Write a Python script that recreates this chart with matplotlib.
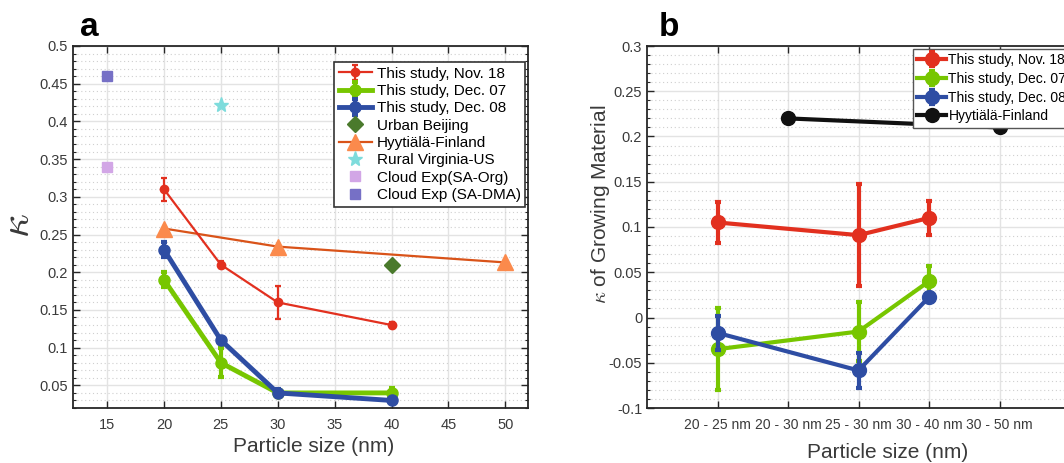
import numpy as np
import matplotlib
matplotlib.use("Agg")
import matplotlib.pyplot as plt
from matplotlib.ticker import MultipleLocator

plt.rcParams['font.family'] = ['Liberation Sans', 'DejaVu Sans']
plt.rcParams['mathtext.fontset'] = 'cm'

# ---------- panel a data ----------
size = [20, 25, 30, 40]
nov18 = [0.31, 0.21, 0.16, 0.13]
nov18_err = [0.015, 0.005, 0.022, 0.004]
dec07 = [0.19, 0.08, 0.04, 0.04]
dec07_err = [0.01, 0.019, 0.004, 0.007]
dec08 = [0.23, 0.11, 0.04, 0.03]
dec08_err = [0.01, 0.002, 0.005, 0.002]
beijing_x, beijing_y = [40], [0.21]
hyy_x = [20, 30, 50]
hyy_y = [0.258, 0.234, 0.213]
virginia_x, virginia_y = [25], [0.422]
sa_org_x, sa_org_y = [15], [0.34]
sa_dma_x, sa_dma_y = [15], [0.46]

# ---------- panel b data ----------
bins = ["20 - 25 nm", "20 - 30 nm", "25 - 30 nm", "30 - 40 nm", "30 - 50 nm"]
b_pos = [1, 3, 4]
b_nov18 = [0.105, 0.091, 0.110]
b_nov18_err = [0.0225, 0.056, 0.019]
b_dec07 = [-0.035, -0.0155, 0.040]
b_dec07_err = [0.045, 0.033, 0.017]
b_dec08 = [-0.017, -0.0585, 0.0225]
b_dec08_err = [0.019, 0.0195, 0.003]
b_hyy_pos = [2, 5]
b_hyy = [0.22, 0.21]

RED = '#e2301f'
GREEN = '#77c600'
BLUE = '#2e4da3'
TXT = '#3a3a3a'
AXC = '#262626'


def style_axes(ax):
    for s in ax.spines.values():
        s.set_color(AXC)
        s.set_linewidth(1.3)
    ax.tick_params(which='both', direction='in', top=True, right=True,
                   colors=AXC, labelcolor=TXT, labelsize=10.5)
    ax.tick_params(which='major', length=5, width=1)
    ax.tick_params(which='minor', length=2.5, width=0.8)
    ax.tick_params(axis='x', pad=7)
    ax.yaxis.set_minor_locator(MultipleLocator(0.01))
    ax.grid(True, which='major', color='#e3e3e3', lw=1.0)
    ax.grid(True, which='minor', axis='y', color='#cfcfcf', lw=0.8, ls=(0, (1, 2.5)))
    ax.set_axisbelow(True)


fig = plt.figure(figsize=(10.64, 4.63), dpi=100)

# ---------- panel a ----------
ax1 = fig.add_axes([73/1064, 55/463, 455/1064, 362/463])
style_axes(ax1)
e1 = ax1.errorbar(size, nov18, yerr=nov18_err, color=RED, lw=1.6, marker='o', ms=6,
                  capsize=2.5, elinewidth=1.6, capthick=1.6, zorder=4)
e2 = ax1.errorbar(size, dec07, yerr=dec07_err, color=GREEN, lw=3.5, marker='o', ms=8,
                  capsize=2.5, elinewidth=3, capthick=3, zorder=3)
e3 = ax1.errorbar(size, dec08, yerr=dec08_err, color=BLUE, lw=3.5, marker='o', ms=8,
                  capsize=2.5, elinewidth=3, capthick=3, zorder=4)
p4, = ax1.plot(beijing_x, beijing_y, ls='none', marker='D', ms=8, color='#4a7a2c', zorder=5)
hyy_line, = ax1.plot(hyy_x, hyy_y, color='#d95319', lw=1.6, zorder=2)
hyy_mk, = ax1.plot(hyy_x, hyy_y, ls='none', marker='^', ms=11, color='#fb8a4c', zorder=5)
p6, = ax1.plot(virginia_x, virginia_y, ls='none', marker='*', ms=11, color='#7edcdc', zorder=5)
p7, = ax1.plot(sa_org_x, sa_org_y, ls='none', marker='s', ms=7.5, color='#d2a6e6', zorder=5)
p8, = ax1.plot(sa_dma_x, sa_dma_y, ls='none', marker='s', ms=7.5, color='#7670c6', zorder=5)

ax1.set_xlim(12, 52)
ax1.set_ylim(0.02, 0.5)
ax1.set_xticks([15, 20, 25, 30, 35, 40, 45, 50])
ax1.set_yticks([0.05, 0.1, 0.15, 0.2, 0.25, 0.3, 0.35, 0.4, 0.45, 0.5])
ax1.set_yticklabels(['0.05', '0.1', '0.15', '0.2', '0.25', '0.3', '0.35', '0.4', '0.45', '0.5'])
ax1.set_xlabel('Particle size (nm)', fontsize=15, color=TXT)
ax1.xaxis.set_label_coords((314 - 73) / 455, -(437 - 408) / 362)
ax1.set_ylabel(r'$\kappa$', fontsize=30, color=TXT)
ax1.yaxis.set_label_coords((38 - 73) / 455, (408 - 226) / 362)

leg1 = ax1.legend([e1, e2, e3, p4, (hyy_line, hyy_mk), p6, p7, p8],
                  ['This study, Nov. 18', 'This study, Dec. 07', 'This study, Dec. 08',
                   'Urban Beijing', 'Hyytiälä-Finland', 'Rural Virginia-US',
                   'Cloud Exp(SA-Org)', 'Cloud Exp (SA-DMA)'],
                  loc='upper left', bbox_to_anchor=(334/1064, 1 - 62/463),
                  bbox_transform=fig.transFigure, borderaxespad=0, fontsize=11,
                  frameon=True, fancybox=False, edgecolor='#333333', framealpha=1,
                  handlelength=2.2, handletextpad=0.3, labelspacing=0.22, borderpad=0.3)
leg1.get_frame().set_linewidth(1.2)

# ---------- panel b ----------
ax2 = fig.add_axes([647/1064, 55/463, 493.5/1064, 362/463])
style_axes(ax2)
b1 = ax2.errorbar(b_pos, b_nov18, yerr=b_nov18_err, color=RED, lw=3, marker='o', ms=10,
                  capsize=2.5, elinewidth=3, capthick=3, zorder=3)
b2 = ax2.errorbar(b_pos, b_dec07, yerr=b_dec07_err, color=GREEN, lw=3, marker='o', ms=10,
                  capsize=2.5, elinewidth=3, capthick=3, zorder=3)
b3 = ax2.errorbar(b_pos, b_dec08, yerr=b_dec08_err, color=BLUE, lw=3, marker='o', ms=10,
                  capsize=2.5, elinewidth=3, capthick=3, zorder=4)
b4, = ax2.plot(b_hyy_pos, b_hyy, color='#111111', lw=3, marker='o', ms=10, zorder=4)

ax2.set_xlim(0, 7)
ax2.set_ylim(-0.1, 0.3)
ax2.set_xticks(range(1, len(bins) + 1))
ax2.set_xticklabels(bins, fontsize=10)
ax2.set_yticks([-0.1, -0.05, 0, 0.05, 0.1, 0.15, 0.2, 0.25, 0.3])
ax2.set_yticklabels(['-0.1', '-0.05', '0', '0.05', '0.1', '0.15', '0.2', '0.25', '0.3'])
ax2.set_xlabel('Particle size (nm)', fontsize=15, color=TXT)
ax2.xaxis.set_label_coords((888 - 647) / 493.5, -(443 - 408) / 362)
ax2.set_ylabel(r'$\kappa$ of Growing Material', fontsize=15, color=TXT)
ax2.yaxis.set_label_coords((612 - 647) / 493.5, (408 - 204) / 362)

leg2 = ax2.legend([b1, b2, b3, b4],
                  ['This study, Nov. 18', 'This study, Dec. 07', 'This study, Dec. 08',
                   'Hyytiälä-Finland'],
                  loc='upper left', bbox_to_anchor=(913/1064, 1 - 49/463),
                  bbox_transform=fig.transFigure, borderaxespad=0, fontsize=10,
                  frameon=True, fancybox=False, edgecolor='#555555', framealpha=1,
                  handlelength=2.1, handletextpad=0.15, labelspacing=0.34, borderpad=0.3)
leg2.get_frame().set_linewidth(1.0)

# panel letters
fig.text(80/1064, 1 - 36/463, 'a', fontsize=24, fontweight='bold', color='black')
fig.text(659/1064, 1 - 36/463, 'b', fontsize=24, fontweight='bold', color='black')

fig.savefig('out.png', dpi=100)
